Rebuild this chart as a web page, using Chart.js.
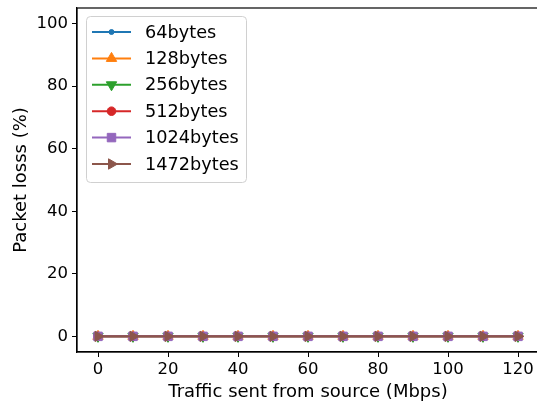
<!DOCTYPE html>
<html>
<head>
<meta charset="utf-8">
<script src="https://cdn.jsdelivr.net/npm/chart.js@4"></script>
<style>
  html, body { margin: 0; padding: 0; overflow: hidden; background: #fff; }
  canvas { display: block; }
</style>
</head>
<body>
<canvas id="chart" width="546" height="406"></canvas>
<script>
// Data
const traffic = [0, 10, 20, 30, 40, 50, 60, 70, 80, 90, 100, 110, 120];
const sizes = ['64bytes', '128bytes', '256bytes', '512bytes', '1024bytes', '1472bytes'];
const loss64   = [0, 0, 0, 0, 0, 0, 0, 0, 0, 0, 0, 0, 0];
const loss128  = [0, 0, 0, 0, 0, 0, 0, 0, 0, 0, 0, 0, 0];
const loss256  = [0, 0, 0, 0, 0, 0, 0, 0, 0, 0, 0, 0, 0];
const loss512  = [0, 0, 0, 0, 0, 0, 0, 0, 0, 0, 0, 0, 0];
const loss1024 = [0, 0, 0, 0, 0, 0, 0, 0, 0, 0, 0, 0, 0];
const loss1472 = [0, 0, 0, 0, 0, 0, 0, 0, 0, 0, 0, 0, 0];
const xTicks = [0, 20, 40, 60, 80, 100, 120];
const yTicks = [0, 20, 40, 60, 80, 100];

const FONT = 'DejaVu Sans';
const colors = ['#1f77b4', '#ff7f0e', '#2ca02c', '#d62728', '#9467bd', '#8c564b'];
// matplotlib markers: '.', '^', 'v', 'o', 's', '>'
const markers = [
  { style: 'circle', radius: 2.5, rotation: 0 },
  { style: 'triangle', radius: 6, rotation: 0 },
  { style: 'triangle', radius: 6, rotation: 180 },
  { style: 'circle', radius: 4.3, rotation: 0 },
  { style: 'rect', radius: 6, rotation: 0 },
  { style: 'triangle', radius: 6, rotation: 90 }
];
const series = [loss64, loss128, loss256, loss512, loss1024, loss1472];

const datasets = series.map((vals, i) => ({
  label: sizes[i],
  data: vals.map((v, j) => ({ x: traffic[j], y: v })),
  borderColor: colors[i],
  backgroundColor: colors[i],
  pointBackgroundColor: colors[i],
  pointBorderColor: colors[i],
  pointBorderWidth: 1,
  borderWidth: 2,
  pointStyle: markers[i].style,
  pointRadius: markers[i].radius,
  pointRotation: markers[i].rotation,
  pointHoverRadius: markers[i].radius,
  order: 5 - i  // last series drawn on top, like matplotlib
}));

// draw one marker for the legend
function marker(ctx, m, color, x, y) {
  ctx.save();
  ctx.fillStyle = color;
  ctx.strokeStyle = color;
  ctx.lineWidth = 1;
  ctx.translate(x, y);
  ctx.rotate(m.rotation * Math.PI / 180);
  ctx.beginPath();
  if (m.style === 'circle') {
    ctx.arc(0, 0, m.radius, 0, Math.PI * 2);
  } else if (m.style === 'rect') {
    const s = m.radius * Math.SQRT1_2;
    ctx.rect(-s, -s, 2 * s, 2 * s);
  } else {
    for (let k = 0; k < 3; k++) {
      const a = k * 2 * Math.PI / 3;
      const px = Math.sin(a) * m.radius, py = -Math.cos(a) * m.radius;
      if (k === 0) ctx.moveTo(px, py); else ctx.lineTo(px, py);
    }
    ctx.closePath();
  }
  ctx.fill();
  ctx.stroke();
  ctx.restore();
}

// scales should not push the plot area around
function noPad(s) {
  s.paddingTop = 0;
  s.paddingBottom = 0;
  s.paddingLeft = 0;
  s.paddingRight = 0;
}

const decor = {
  id: 'decor',
  afterDraw(chart) {
    const ctx = chart.ctx;
    const a = chart.chartArea;
    ctx.save();
    // frame
    ctx.strokeStyle = '#000';
    ctx.lineWidth = 1.2;
    ctx.strokeRect(a.left, a.top, a.right - a.left, a.bottom - a.top);

    // axis titles
    ctx.fillStyle = '#000';
    ctx.font = '18px "' + FONT + '"';
    ctx.textAlign = 'center';
    ctx.textBaseline = 'alphabetic';
    ctx.fillText('Traffic sent from source (Mbps)', (a.left + a.right) / 2, 397);
    ctx.save();
    ctx.translate(26, (a.top + a.bottom) / 2);
    ctx.rotate(-Math.PI / 2);
    ctx.fillText('Packet losss (%)', 0, 0);
    ctx.restore();

    // legend
    ctx.beginPath();
    ctx.roundRect(86.5, 16.5, 160, 166, 4);
    ctx.fillStyle = 'rgba(255,255,255,0.8)';
    ctx.fill();
    ctx.strokeStyle = '#d0d0d0';
    ctx.lineWidth = 1;
    ctx.stroke();
    ctx.font = '17.7px "' + FONT + '"';
    ctx.textAlign = 'left';
    ctx.textBaseline = 'middle';
    chart.data.datasets.forEach((ds, i) => {
      const y = 32 + i * 26.4;
      ctx.strokeStyle = ds.borderColor;
      ctx.lineWidth = 2;
      ctx.beginPath();
      ctx.moveTo(92, y);
      ctx.lineTo(131, y);
      ctx.stroke();
      marker(ctx, markers[i], ds.borderColor, 111.5, y);
      ctx.fillStyle = '#000';
      ctx.fillText(ds.label, 145, y + 1);
    });
    ctx.restore();
  }
};

new Chart(document.getElementById('chart'), {
  type: 'line',
  data: { datasets: datasets },
  options: {
    responsive: false,
    animation: false,
    layout: { padding: { top: 8, right: 6, left: 0, bottom: 0 } },
    plugins: { legend: { display: false }, tooltip: { enabled: false } },
    scales: {
      x: {
        type: 'linear',
        min: -6,
        max: 126,
        afterBuildTicks: s => { s.ticks = xTicks.map(v => ({ value: v })); },
        afterFit: s => { s.height = 54; noPad(s); },
        grid: { drawOnChartArea: false, tickLength: 5, tickColor: '#000', tickWidth: 1 },
        border: { color: '#000', width: 1.2 },
        ticks: { color: '#000', font: { family: FONT, size: 16.5 }, padding: 3, maxRotation: 0 }
      },
      y: {
        min: -5,
        max: 105,
        afterBuildTicks: s => { s.ticks = yTicks.map(v => ({ value: v })); },
        afterFit: s => { s.width = 77; noPad(s); },
        grid: { drawOnChartArea: false, tickLength: 5, tickColor: '#000', tickWidth: 1 },
        border: { color: '#000', width: 1.2 },
        ticks: { color: '#000', font: { family: FONT, size: 16.5 }, padding: 4 }
      }
    }
  },
  plugins: [decor]
});
</script>
</body>
</html>
